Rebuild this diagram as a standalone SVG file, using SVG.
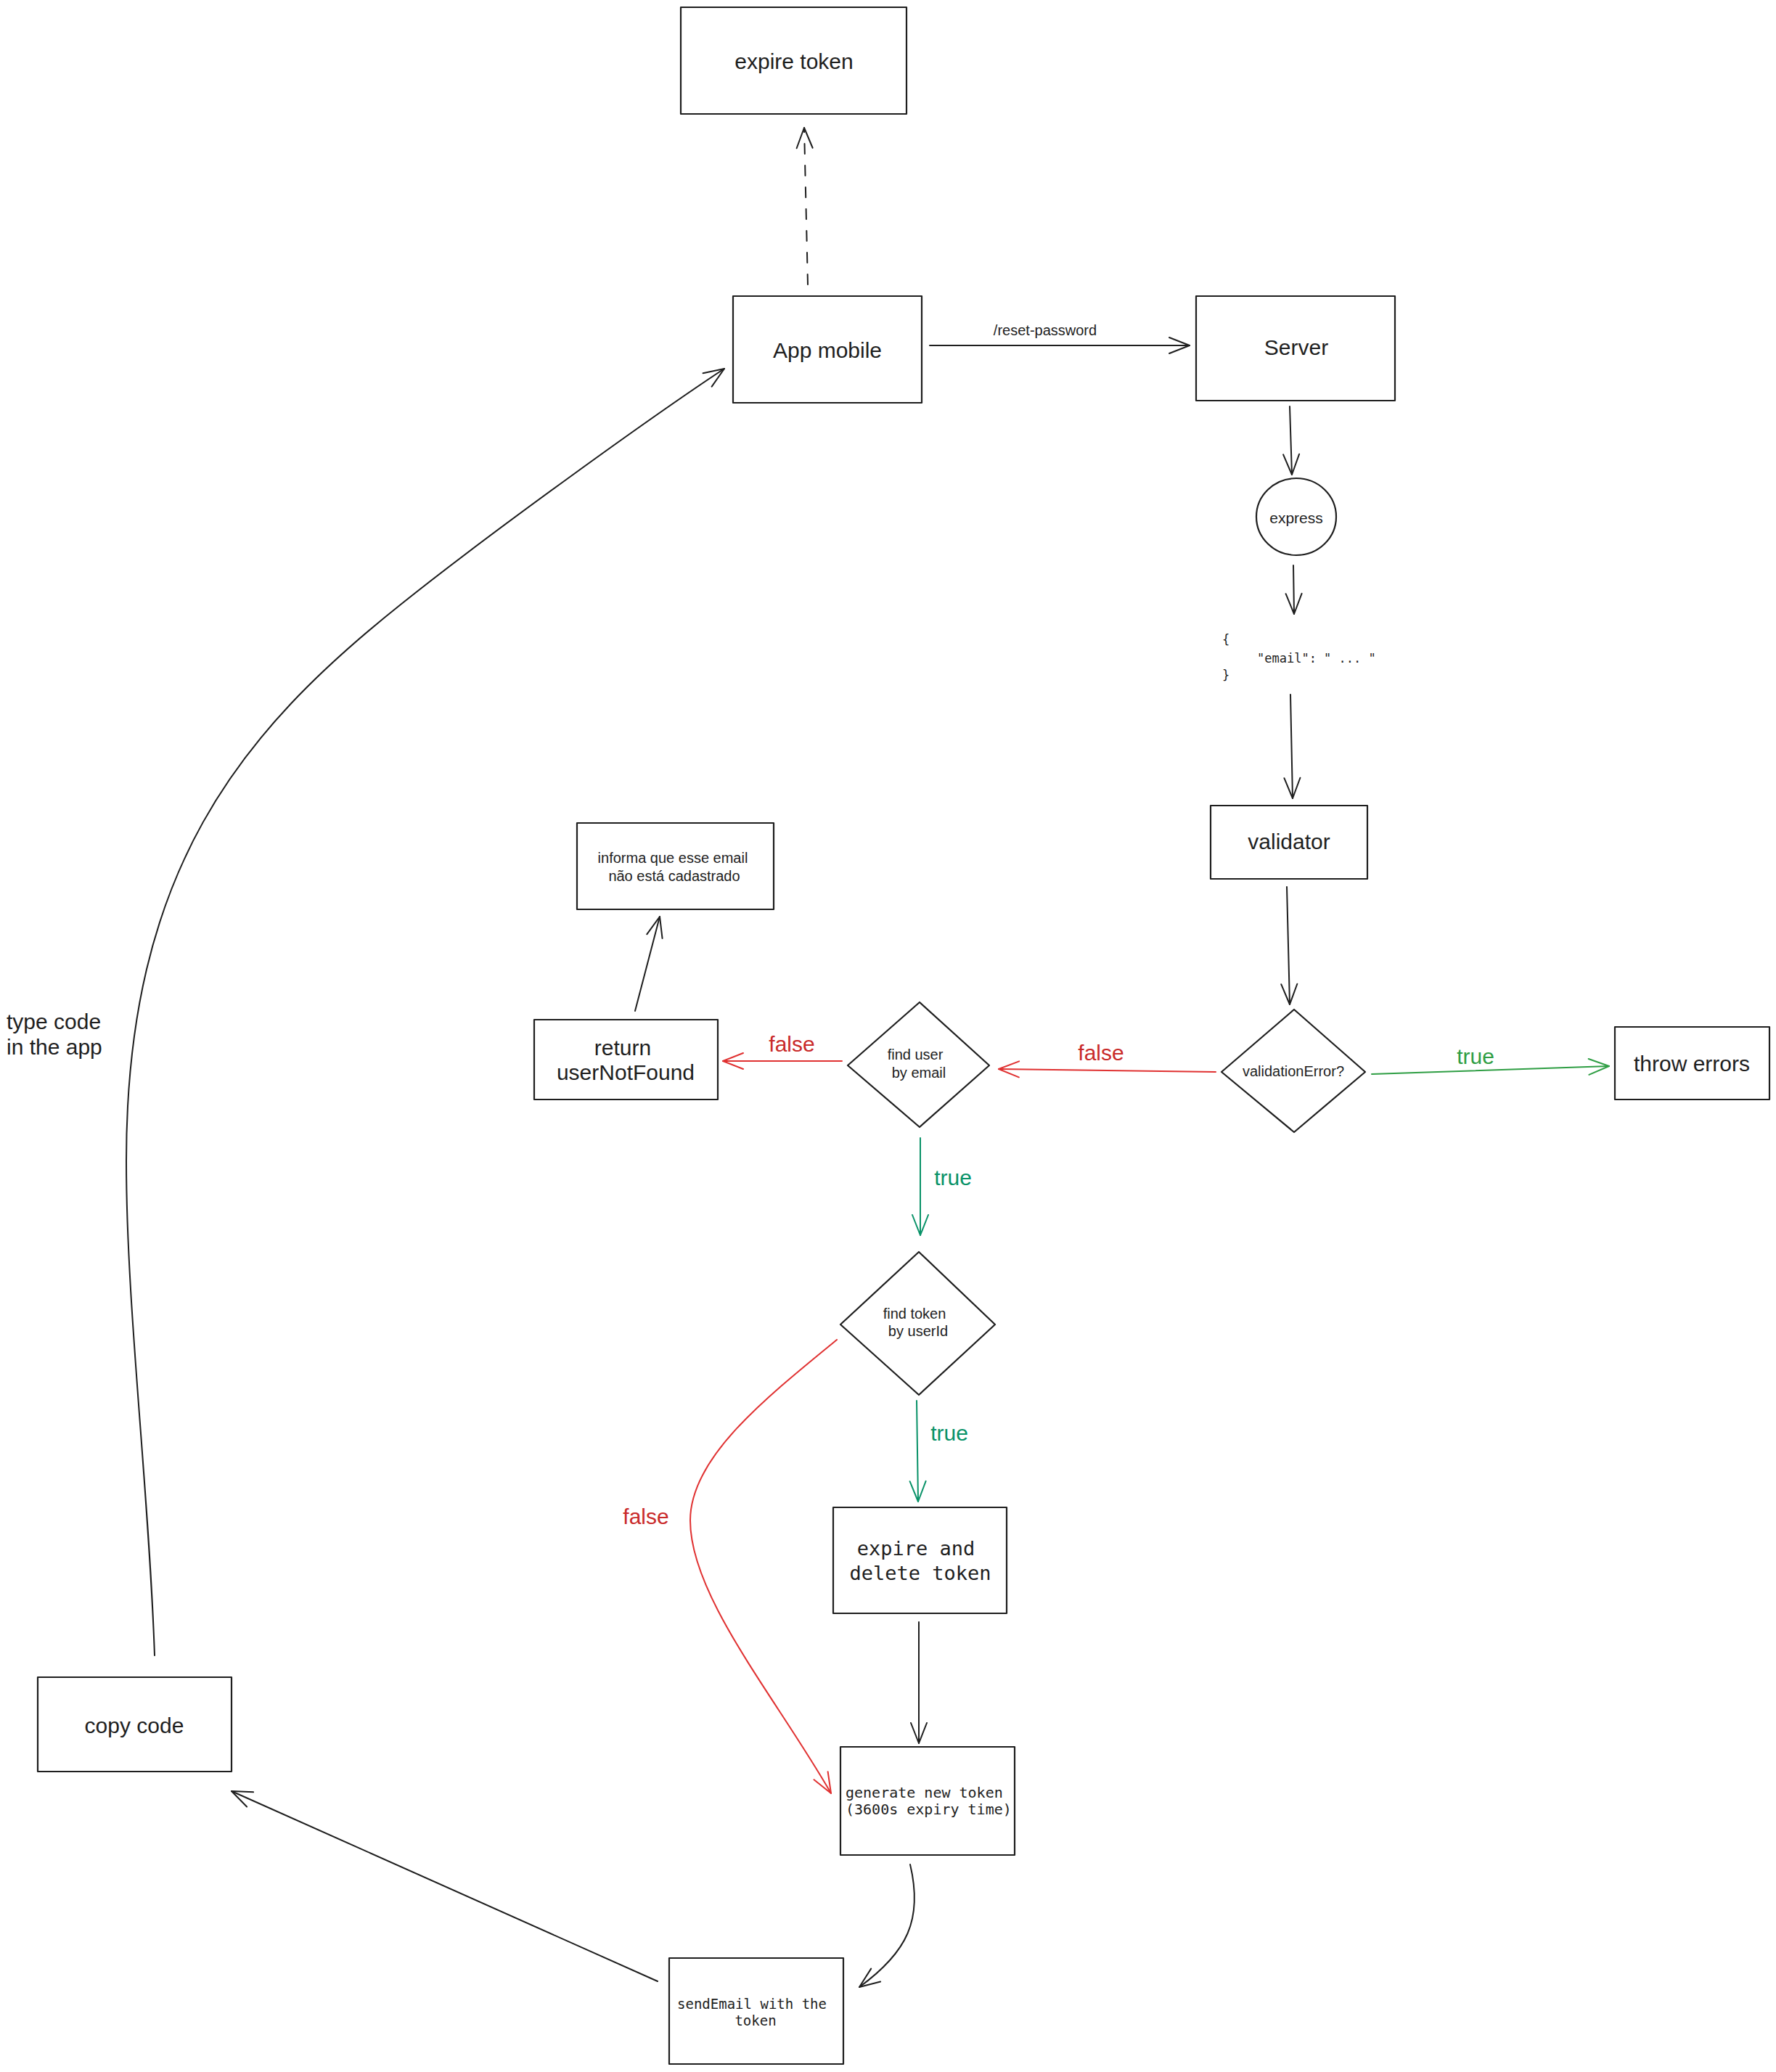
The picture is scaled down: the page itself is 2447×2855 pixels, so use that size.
<svg xmlns="http://www.w3.org/2000/svg" width="2447" height="2855" viewBox="0 0 2447 2855">
<style>
.bg{fill:#ffffff}
.box{fill:none;stroke:#1e1e1e;stroke-width:2.2;stroke-linejoin:round}
.ln{fill:none;stroke:#1e1e1e;stroke-width:2;stroke-linecap:round}
.red{fill:none;stroke:#e03131;stroke-width:2;stroke-linecap:round}
.grn{fill:none;stroke:#2f9e44;stroke-width:2;stroke-linecap:round}
.teal{fill:none;stroke:#099268;stroke-width:2;stroke-linecap:round}
.dash{stroke-dasharray:14 16}
text{font-family:"Liberation Sans",Arial,sans-serif;fill:#1e1e1e;dominant-baseline:central}
.hl{font-size:30px;text-anchor:middle}
.hs{font-size:22px;text-anchor:middle}
.mono{font-family:"DejaVu Sans Mono","Liberation Mono",monospace}
.tr{fill:#c92a2a}
.tg{fill:#2f9e44}
.tt{fill:#099268}
</style>
<defs>
<marker id="ak" viewBox="-30 -15 32 30" markerWidth="32" markerHeight="30" refX="0" refY="0" orient="auto" markerUnits="userSpaceOnUse"><path d="M-28,-11 L0,0 L-28,11" fill="none" stroke="#1e1e1e" stroke-width="2" stroke-linecap="round" stroke-linejoin="round"/></marker>
<marker id="ar" viewBox="-30 -15 32 30" markerWidth="32" markerHeight="30" refX="0" refY="0" orient="auto" markerUnits="userSpaceOnUse"><path d="M-28,-11 L0,0 L-28,11" fill="none" stroke="#e03131" stroke-width="2" stroke-linecap="round" stroke-linejoin="round"/></marker>
<marker id="ag" viewBox="-30 -15 32 30" markerWidth="32" markerHeight="30" refX="0" refY="0" orient="auto" markerUnits="userSpaceOnUse"><path d="M-28,-11 L0,0 L-28,11" fill="none" stroke="#2f9e44" stroke-width="2" stroke-linecap="round" stroke-linejoin="round"/></marker>
<marker id="at" viewBox="-30 -15 32 30" markerWidth="32" markerHeight="30" refX="0" refY="0" orient="auto" markerUnits="userSpaceOnUse"><path d="M-28,-11 L0,0 L-28,11" fill="none" stroke="#099268" stroke-width="2" stroke-linecap="round" stroke-linejoin="round"/></marker>
</defs>
<rect class="bg" x="0" y="0" width="2447" height="2855"/>

<g id="connectors">
<path class="ln dash" d="M1113,392 L1108,176" marker-end="url(#ak)"/>
<path class="ln" d="M1281,476 L1639,476" marker-end="url(#ak)"/>
<path class="ln" d="M1777,560 L1780,654" marker-end="url(#ak)"/>
<path class="ln" d="M1782,779 L1783,846" marker-end="url(#ak)"/>
<path class="ln" d="M1778,957 L1781,1100" marker-end="url(#ak)"/>
<path class="ln" d="M1773,1222 L1777,1384" marker-end="url(#ak)"/>
<path class="grn" d="M1890,1480 L2217,1469" marker-end="url(#ag)"/>
<path class="red" d="M1675,1477 L1376,1473" marker-end="url(#ar)"/>
<path class="red" d="M1160,1462 L996,1462" marker-end="url(#ar)"/>
<path class="ln" d="M875,1393 L909,1263" marker-end="url(#ak)"/>
<path class="teal" d="M1268,1568 L1268,1702" marker-end="url(#at)"/>
<path class="teal" d="M1263,1930 L1265,2069" marker-end="url(#at)"/>
<path class="ln" d="M1266,2235 L1266,2402" marker-end="url(#ak)"/>
<path class="red" d="M1153,1846 C1050,1930 951,2010 951,2095 C951,2200 1070,2340 1145,2471" marker-end="url(#ar)"/>
<path class="ln" d="M1254,2569 C1272,2645 1250,2690 1184,2738" marker-end="url(#ak)"/>
<path class="ln" d="M906,2730 L319,2468" marker-end="url(#ak)"/>
<path class="ln" d="M213,2281 C205,2050 174,1800 174,1600 C174,1200 330,1010 552,833 C677,733 898,574 998,508" marker-end="url(#ak)"/>
<text class="hs" x="1440" y="455" style="font-size:20px">/reset-password</text>
<text class="hl tg" x="2033" y="1455">true</text>
<text class="hl tr" x="1517" y="1450">false</text>
<text class="hl tr" x="1091" y="1438">false</text>
<text class="hl tt" x="1313" y="1622">true</text>
<text class="hl tt" x="1308" y="1974">true</text>
<text class="hl tr" x="890" y="2089">false</text>
<text x="9" y="1407" style="font-size:30px">type code</text>
<text x="9" y="1442" style="font-size:30px">in the app</text>
</g>

<g id="expire-token">
<rect class="box" x="938" y="10" width="311" height="147"/>
<text class="hl" x="1094" y="84">expire token</text>
</g>

<g id="app-mobile">
<rect class="box" x="1010" y="408" width="260" height="147"/>
<text class="hl" x="1140" y="482">App mobile</text>
</g>

<g id="server">
<rect class="box" x="1648" y="408" width="274" height="144"/>
<text class="hl" x="1786" y="478">Server</text>
</g>

<g id="express">
<ellipse class="box" cx="1786" cy="712" rx="55" ry="53"/>
<text class="hs" x="1786" y="713" style="font-size:21px">express</text>
</g>

<g id="json-body">
<text class="mono" x="1684" y="881" style="font-size:17px">{</text>
<text class="mono" x="1732" y="907" style="font-size:17px">"email": " ... "</text>
<text class="mono" x="1684" y="930" style="font-size:17px">}</text>
</g>

<g id="validator">
<rect class="box" x="1668" y="1110" width="216" height="101"/>
<text class="hl" x="1776" y="1159">validator</text>
</g>

<g id="validation-error">
<path class="box" d="M1783,1391 L1881,1477 L1783,1560 L1683,1477 Z"/>
<text class="hs" x="1782" y="1476" style="font-size:20px">validationError?</text>
</g>

<g id="throw-errors">
<rect class="box" x="2225" y="1415" width="213" height="100"/>
<text class="hl" x="2331" y="1465">throw errors</text>
</g>

<g id="informa">
<rect class="box" x="795" y="1134" width="271" height="119"/>
<text class="hs" x="927" y="1182" style="font-size:20px">informa que esse email</text>
<text class="hs" x="929" y="1207" style="font-size:20px">não está cadastrado</text>
</g>

<g id="return-user-not-found">
<rect class="box" x="736" y="1405" width="253" height="110"/>
<text class="hl" x="858" y="1443">return</text>
<text class="hl" x="862" y="1477">userNotFound</text>
</g>

<g id="find-user">
<path class="box" d="M1267,1381 L1363,1468 L1267,1553 L1168,1468 Z"/>
<text class="hs" x="1261" y="1453" style="font-size:20px">find user</text>
<text class="hs" x="1266" y="1478" style="font-size:20px">by email</text>
</g>

<g id="find-token">
<path class="box" d="M1266,1725 L1371,1825 L1266,1922 L1158,1825 Z"/>
<text class="hs" x="1260" y="1810" style="font-size:20px">find token</text>
<text class="hs" x="1265" y="1834" style="font-size:20px">by userId</text>
</g>

<g id="expire-delete-token">
<rect class="box" x="1148" y="2077" width="239" height="146"/>
<text class="mono" x="1262" y="2133" style="font-size:27px;text-anchor:middle">expire and</text>
<text class="mono" x="1268" y="2167" style="font-size:27px;text-anchor:middle">delete token</text>
</g>

<g id="generate-token">
<rect class="box" x="1158" y="2407" width="240" height="149"/>
<text class="mono" x="1165" y="2470" style="font-size:20px">generate new token</text>
<text class="mono" x="1165" y="2493" style="font-size:20px">(3600s expiry time)</text>
</g>

<g id="send-email">
<rect class="box" x="922" y="2698" width="240" height="146"/>
<text class="mono" x="1036" y="2761" style="font-size:19px;text-anchor:middle">sendEmail with the</text>
<text class="mono" x="1041" y="2784" style="font-size:19px;text-anchor:middle">token</text>
</g>

<g id="copy-code">
<rect class="box" x="52" y="2311" width="267" height="130"/>
<text class="hl" x="185" y="2377">copy code</text>
</g>
</svg>
